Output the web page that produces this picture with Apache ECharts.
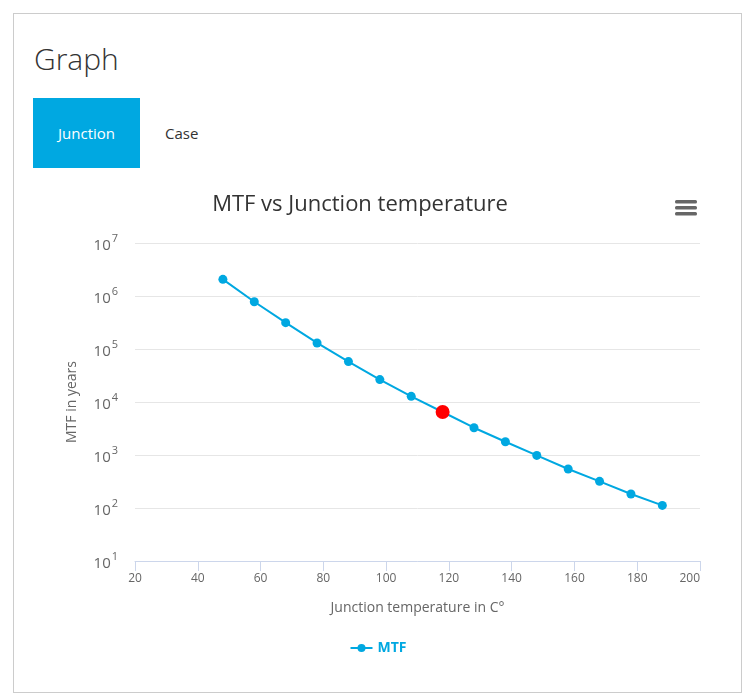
<!DOCTYPE html>
<html>
<head>
<meta charset="utf-8">
<script src="https://cdn.jsdelivr.net/npm/echarts@6/dist/echarts.min.js"></script>
<style>
  body { margin: 0; background: #fff; font-family: 'Open Sans', sans-serif; }
  .card { position: absolute; left: 13px; top: 13px; width: 729px; height: 680px; border: 1px solid #ccc; box-sizing: border-box; }
  .head { position: absolute; left: 20px; top: 24px; font-size: 30px; font-weight: 300; color: #333; }
  .tab { position: absolute; top: 84px; height: 70px; line-height: 71px; font-size: 15px; }
  .tab.on { left: 19px; width: 107px; background: #00a8e1; color: #fff; text-align: center; }
  .tab.off { left: 151px; color: #333; }
  #chart { position: absolute; left: 14px; top: 180px; width: 728px; height: 512px; }
</style>
</head>
<body>
<div class="card">
  <div class="head">Graph</div>
  <div class="tab on">Junction</div>
  <div class="tab off">Case</div>
</div>
<div id="chart"></div>
<script>
// junction temperature (°C) and MTF (years)
const temps = [48, 58, 68, 78, 88, 98, 108, 118, 128, 138, 148, 158, 168, 178, 188];
const mtf = [2060000, 780000, 314000, 130000, 57900, 26500, 12800, 6480, 3270, 1780, 982, 545, 318, 184, 112];
const selectedTemp = 118;
const yTicks = [10, 100, 1000, 10000, 100000, 1000000, 10000000];

const blue = '#00a8e1';
const myChart = echarts.init(document.getElementById('chart'));

const seriesData = temps.map((t, i) => {
  if (t === selectedTemp) {
    return { value: [t, mtf[i]], symbolSize: 14, itemStyle: { color: '#ff0000' } };
  }
  return [t, mtf[i]];
});

const option = {
  animation: false,
  textStyle: { fontFamily: 'Open Sans' },
  title: {
    text: 'MTF vs Junction temperature',
    left: 341,
    top: 9,
    textAlign: 'center',
    textStyle: { fontSize: 22, fontWeight: 'normal', color: '#333', fontFamily: 'Open Sans' }
  },
  graphic: [{
    type: 'group',
    right: 45,
    top: 20,
    children: [0, 6, 12].map(y => ({
      type: 'rect',
      shape: { x: 0, y: y, width: 22, height: 3.5, r: 1.5 },
      style: { fill: '#666' }
    }))
  }],
  legend: {
    bottom: 32,
    left: 'center',
    itemWidth: 22,
    itemHeight: 10,
    textStyle: { color: blue, fontSize: 14, fontWeight: 'bold', fontFamily: 'Open Sans' },
    data: ['MTF']
  },
  grid: { left: 121, right: 42, top: 63, bottom: 131 },
  xAxis: {
    type: 'value',
    min: 20,
    max: 200,
    interval: 20,
    name: 'Junction temperature in C°',
    nameLocation: 'middle',
    nameGap: 40,
    nameTextStyle: { color: '#666', fontSize: 14, fontFamily: 'Open Sans' },
    axisLine: { lineStyle: { color: '#ccd6eb' } },
    axisTick: { show: true, length: 10, lineStyle: { color: '#ccd6eb' } },
    axisLabel: { color: '#666', fontSize: 12, margin: 12, alignMaxLabel: 'right' },
    splitLine: { show: false }
  },
  yAxis: {
    type: 'log',
    logBase: 10,
    min: yTicks[0],
    max: yTicks[yTicks.length - 1],
    name: 'MTF in years',
    nameLocation: 'middle',
    nameGap: 56,
    nameTextStyle: { color: '#666', fontSize: 14, fontFamily: 'Open Sans' },
    axisLine: { show: false },
    axisTick: { show: false },
    splitLine: { lineStyle: { color: '#e6e6e6' } },
    axisLabel: {
      margin: 17,
      formatter: v => '{b|10}{s|' + Math.round(Math.log10(v)) + '}',
      rich: {
        b: { fontSize: 15, color: '#666', fontFamily: 'Open Sans', lineHeight: 20, verticalAlign: 'bottom', padding: [6, 0, 0, 0] },
        s: { fontSize: 11, color: '#666', fontFamily: 'Open Sans', lineHeight: 20, verticalAlign: 'top', padding: [0, 0, 6, 1] }
      }
    }
  },
  series: [{
    name: 'MTF',
    type: 'line',
    data: seriesData,
    symbol: 'circle',
    symbolSize: 9,
    showAllSymbol: true,
    lineStyle: { color: blue, width: 2 },
    itemStyle: { color: blue }
  }]
};

myChart.setOption(option);
</script>
</body>
</html>
